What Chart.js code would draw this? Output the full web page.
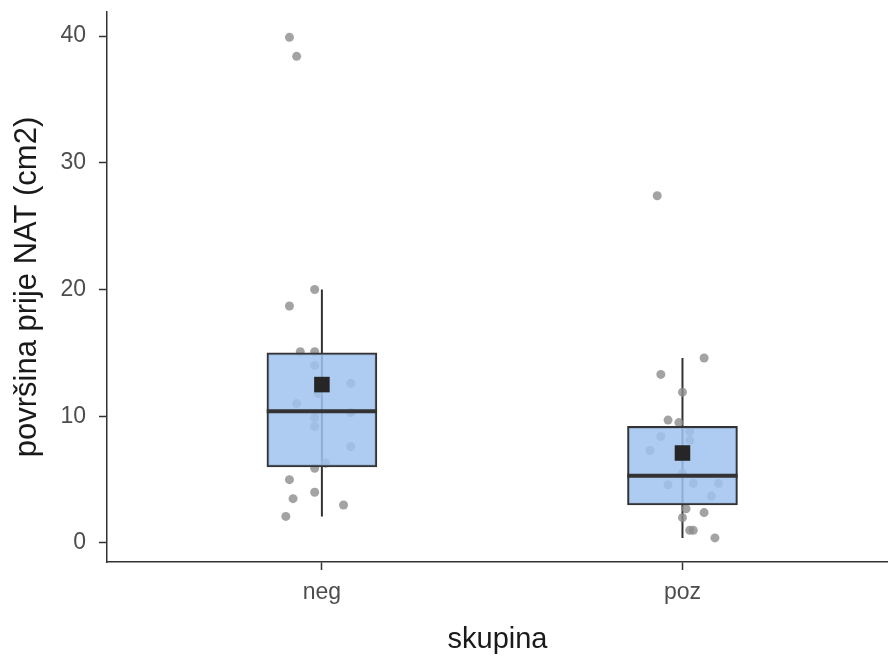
<!DOCTYPE html>
<html>
<head>
<meta charset="utf-8">
<script src="https://cdn.jsdelivr.net/npm/chart.js@4.4.0/dist/chart.umd.min.js"></script>
<style>
  html, body { margin: 0; padding: 0; background: #fff; overflow: hidden; }
  #wrap { position: absolute; left: 0; top: 0; width: 888px; height: 657px; }
</style>
</head>
<body>
<div id="wrap"><canvas id="chart"></canvas></div>
<script>
// groups and their summary stats
const groups = ['neg', 'poz'];
const q1 = [6.0, 3.0];
const median = [10.4, 5.3];
const q3 = [15.0, 9.2];
const whiskLow = [2.1, 0.4];
const whiskHigh = [20.0, 14.6];
const means = [12.5, 7.1];

// jittered raw points: x offset from the group centre, and value
const negX = [-0.09, -0.07, -0.02, -0.09, -0.06, -0.02, -0.02, 0.08, -0.01, -0.07, 0.08, -0.02, -0.02, 0.08, -0.02, 0.01, -0.09, -0.02, -0.08, 0.06, -0.10];
const negValues = [39.9, 38.4, 20.0, 18.7, 15.1, 15.1, 14.0, 12.6, 11.8, 11.0, 10.3, 9.9, 9.2, 7.6, 5.9, 6.3, 5.0, 4.0, 3.5, 3.0, 2.1];
const pozX = [-0.07, 0.06, -0.06, 0.00, -0.04, -0.01, 0.02, -0.06, 0.02, -0.09, 0.00, -0.04, 0.03, 0.10, 0.08, 0.01, 0.06, 0.00, 0.02, 0.03, 0.09];
const pozValues = [27.4, 14.6, 13.3, 11.9, 9.7, 9.5, 8.8, 8.4, 8.1, 7.3, 5.5, 4.6, 4.7, 4.7, 3.7, 2.7, 2.4, 2.0, 1.0, 1.0, 0.4];

const yTicks = [0, 10, 20, 30, 40];
const boxHalf = 0.153;

const pts = [];
negValues.forEach((v, i) => pts.push({x: 1 + negX[i], y: v}));
pozValues.forEach((v, i) => pts.push({x: 2 + pozX[i], y: v}));

const whiskers = [];
const medLines = [];
groups.forEach((g, i) => {
  whiskers.push({x: i + 1, y: whiskLow[i]}, {x: i + 1, y: whiskHigh[i]}, {x: i + 1, y: null});
  medLines.push({x: i + 1 - boxHalf, y: median[i]}, {x: i + 1 + boxHalf, y: median[i]}, {x: i + 1, y: null});
});

const dark = '#333333';
const tickFont = { family: 'Liberation Sans', size: 23 };

new Chart(document.getElementById('chart'), {
  data: {
    datasets: [
      { type: 'line', data: whiskers, borderColor: dark, borderWidth: 2, pointRadius: 0, spanGaps: false, order: 6 },
      { type: 'scatter', data: pts, backgroundColor: 'rgba(140,140,140,0.8)', borderWidth: 0, pointRadius: 4.5, order: 5 },
      { type: 'bar', data: groups.map((g, i) => ({x: i + 1, y: [q1[i], q3[i]]})), backgroundColor: 'rgba(160,195,240,0.85)',
        borderColor: dark, borderWidth: 2, borderSkipped: false, barThickness: 110, grouped: false, order: 3 },
      { type: 'line', data: medLines, borderColor: dark, borderWidth: 4, pointRadius: 0, spanGaps: false, order: 2 },
      { type: 'scatter', data: means.map((m, i) => ({x: i + 1, y: m})), pointStyle: 'rect', pointRadius: 11,
        backgroundColor: '#262626', borderWidth: 0, order: 1 }
    ]
  },
  options: {
    responsive: true,
    maintainAspectRatio: false,
    animation: false,
    events: [],
    layout: { autoPadding: false, padding: { top: 12, right: 0, left: 0, bottom: 0 } },
    plugins: { legend: { display: false }, tooltip: { enabled: false } },
    scales: {
      x: {
        type: 'linear', min: 0.404, max: 2.57, offset: false,
        afterBuildTicks: s => { s.ticks = groups.map((g, i) => ({value: i + 1})); },
        afterFit: s => { s.height = 95; s.paddingLeft = 0; s.paddingRight = 0; },
        ticks: { callback: v => groups[v - 1], color: '#4d4d4d', padding: 9, font: tickFont, maxRotation: 0 },
        grid: { offset: false, drawOnChartArea: false, drawTicks: true, tickLength: 8, color: dark, tickWidth: 1.5 },
        border: { display: true, color: dark, width: 1.5 },
        title: { display: true, text: 'skupina', color: '#1a1a1a', padding: { top: 0, bottom: 0 },
          font: { family: 'Liberation Sans', size: 29 } }
      },
      y: {
        type: 'linear', min: -1.5, max: 41.9,
        afterBuildTicks: s => { s.ticks = yTicks.map(v => ({value: v})); },
        afterFit: s => { s.width = 107; s.paddingTop = 0; s.paddingBottom = 0; },
        ticks: { color: '#4d4d4d', padding: 13, font: tickFont },
        grid: { drawOnChartArea: false, drawTicks: true, tickLength: 8, color: dark, tickWidth: 1.5 },
        border: { display: true, color: dark, width: 1.5 },
        title: { display: true, text: 'površina prije NAT (cm2)', color: '#1a1a1a', padding: { top: 9, bottom: 0 },
          font: { family: 'Liberation Sans', size: 31 } }
      }
    }
  }
});
</script>
</body>
</html>
